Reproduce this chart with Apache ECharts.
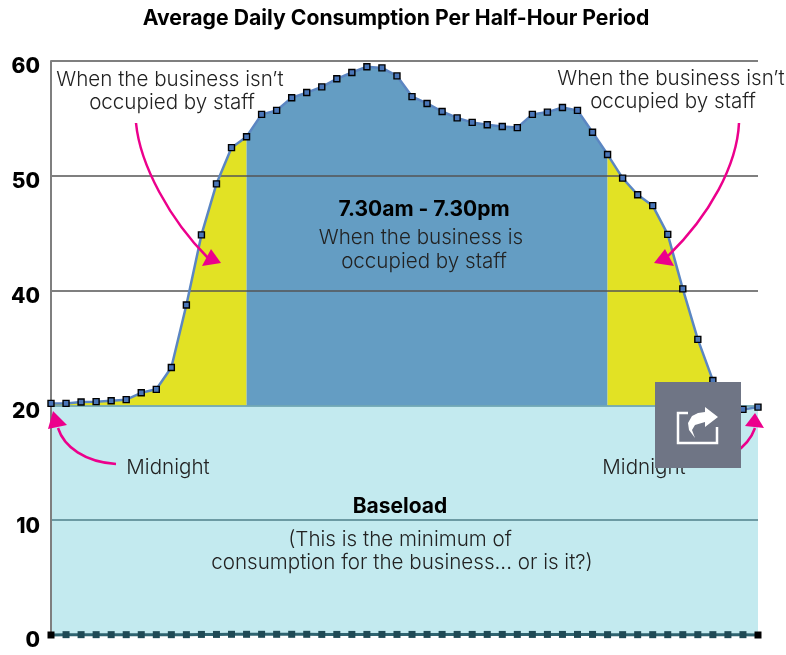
<!DOCTYPE html>
<html>
<head>
<meta charset="utf-8">
<style>
  html, body { margin: 0; padding: 0; background: #fff; }
  #chart { width: 786px; height: 655px; }
</style>
</head>
<body>
<div id="chart"></div>
<script src="https://cdn.jsdelivr.net/npm/echarts@6/dist/echarts.min.js"></script>
<script>
// half-hour slots, midnight to midnight
const slots = Array.from({ length: 48 }, (_, i) => i);

// printed tick labels, evenly spaced even though 30 is missing
const tickLabels = ["0", "10", "20", "40", "50", "60"];

// consumption as read on the printed scale
const dailyValues = [
  20.35, 20.35, 20.6, 20.65, 20.8, 21.0, 22.2, 22.8, 26.6, 37.5, 44.85, 49.3,
  52.45, 53.4, 55.35, 55.7, 56.8, 57.25, 57.75, 58.45, 59.0, 59.5, 59.4, 58.7,
  56.9, 56.3, 55.6, 55.05, 54.65, 54.45, 54.3, 54.2, 55.35, 55.55, 55.95, 55.7,
  53.8, 51.85, 49.8, 48.35, 47.4, 44.9, 40.15, 31.5, 24.35, 20.5, 19.65, 19.85,
];
// the second series sitting on the bottom of the chart
const floorValues = [
  0, 0.03, 0.03, 0.03, 0.03, 0.03, 0.03, 0.03, 0.03, 0.03, 0.05, 0.05,
  0.06, 0.06, 0.06, 0.06, 0.06, 0.06, 0.05, 0.05, 0.05, 0.05, 0.05, 0.05,
  0.05, 0.05, 0.05, 0.05, 0.05, 0.05, 0.05, 0.05, 0.05, 0.05, 0.05, 0.05,
  0.05, 0.03, 0.03, 0.03, 0.03, 0.03, 0.03, 0.03, 0.03, 0.03, 0.03, 0,
];
const baseload = 20;
const staffStart = 13;
const staffEnd = 37;
const lastYellow = 45;

// printed scale -> evenly spaced axis position (the 20..40 step is one tick wide)
function toAxis(v) {
  if (v <= 20) return v;
  if (v <= 40) return 20 + (v - 20) / 2;
  return v - 10;
}

const axisValues = dailyValues.map(toAxis);
const part = (from, to) =>
  axisValues.map((v, i) => (i >= from && i <= to ? v : null));

function areaSeries(name, data, color, origin) {
  return {
    name,
    type: "line",
    data,
    symbol: "none",
    silent: true,
    lineStyle: { width: 0 },
    areaStyle: { color, opacity: 1, origin },
    z: 1,
  };
}

const FONT = "Inter";
const PINK = "#ec008c";

function note(text, x, y, bold) {
  return {
    type: "text",
    x,
    y: y + 2,
    z: 10,
    style: {
      text,
      fill: bold ? "#000" : "#222",
      font: bold ? "bold 21px " + FONT : "300 20.6px " + FONT,
      textAlign: "center",
      textVerticalAlign: "middle",
    },
  };
}

function arrow(curve, head) {
  return [
    {
      type: "bezierCurve",
      z: 11,
      shape: {
        x1: curve[0], y1: curve[1],
        cpx1: curve[2], cpy1: curve[3],
        cpx2: curve[4], cpy2: curve[5],
        x2: curve[6], y2: curve[7],
      },
      style: { fill: null, stroke: PINK, lineWidth: 2.5 },
    },
    {
      type: "polygon",
      z: 11,
      shape: { points: head },
      style: { fill: PINK },
    },
  ];
}

const chart = echarts.init(document.getElementById("chart"));
chart.setOption({
  animation: false,
  backgroundColor: "#fff",
  title: {
    text: "Average Daily Consumption Per Half-Hour Period",
    left: 396,
    top: 8,
    padding: 0,
    textAlign: "center",
    textStyle: { color: "#000", fontFamily: FONT, fontWeight: "bold", fontSize: 21.2 },
  },
  grid: { left: 51, right: 28, top: 61, bottom: 20 },
  xAxis: {
    type: "category",
    data: slots,
    boundaryGap: false,
    axisLine: { show: false },
    axisTick: { show: false },
    axisLabel: { show: false },
    splitLine: { show: false },
  },
  yAxis: {
    type: "value",
    min: 0,
    max: 50,
    interval: 10,
    z: 3,
    axisLine: { show: true, lineStyle: { color: "#7f7f7f", width: 2 } },
    axisTick: { show: false },
    splitLine: {
      show: true,
      lineStyle: {
        color: ["rgba(0,0,0,0)", "#4f7f8a", "#5f9aa8", "#555", "#555", "#555"],
        width: 1.5,
      },
    },
    axisLabel: {
      color: "#000",
      fontFamily: FONT,
      fontWeight: 800,
      fontSize: 21,
      margin: 11,
      verticalAlign: "top",
      lineHeight: 12,
      formatter: (v) => tickLabels[v / 10],
    },
  },
  series: [
    areaSeries("Baseload", slots.map(() => baseload), "#c3eaef", "start"),
    areaSeries("Before staff", part(0, staffStart), "#e2e224", toAxis(baseload)),
    areaSeries("Staff hours", part(staffStart, staffEnd), "#649dc3", toAxis(baseload)),
    areaSeries("After staff", part(staffEnd, lastYellow), "#e2e224", toAxis(baseload)),
    {
      name: "Average",
      type: "line",
      data: axisValues,
      symbol: "rect",
      symbolSize: 6,
      clip: false,
      z: 5,
      lineStyle: { color: "#5b86c2", width: 2.5 },
      itemStyle: { color: "#4a76b8", borderColor: "#000", borderWidth: 1.4 },
    },
    {
      name: "Floor",
      type: "line",
      data: floorValues.map((value, i) => ({
        value,
        itemStyle: i === 0 || i === slots.length - 1 ? { color: "#000", borderColor: "#000" } : undefined,
      })),
      symbol: "rect",
      symbolSize: 7,
      clip: false,
      z: 5,
      lineStyle: { color: "#2f6470", width: 3 },
      itemStyle: { color: "#1f4a55", borderColor: "#1f4a55", borderWidth: 0 },
    },
  ],
  graphic: [
    note("When the business isn\u2019t", 170, 78),
    note("occupied by staff", 172, 101),
    note("When the business isn\u2019t", 671, 77),
    note("occupied by staff", 673, 100),
    note("7.30am - 7.30pm", 424, 208, true),
    note("When the business is", 421, 236),
    note("occupied by staff", 424, 260),
    note("Baseload", 400, 505, true),
    note("(This is the minimum of", 400, 538),
    note("consumption for the business... or is it?)", 402, 561),
    note("Midnight", 168, 466),
    note("Midnight", 644, 466),
    ...arrow([136, 123, 140, 165, 170, 220, 208, 258], [[211, 249], [221, 263], [202, 266]]),
    ...arrow([739, 123, 737, 165, 710, 215, 668, 256], [[665, 249], [654, 263], [674, 266]]),
    ...arrow([116, 464, 85, 462, 64, 447, 58, 428], [[53, 411], [48, 429], [67, 425]]),
    ...arrow([700, 464, 725, 463, 748, 448, 755, 428], [[755, 413], [745, 426], [764, 428]]),
    // share button sitting over the picture
    {
      type: "rect",
      z: 20,
      shape: { x: 655, y: 382, width: 86, height: 86 },
      style: { fill: "#6f7585" },
    },
    {
      type: "polyline",
      z: 21,
      shape: { points: [[688, 413], [678, 413], [678, 443], [717, 443], [717, 427]] },
      style: { fill: null, stroke: "#fff", lineWidth: 2.5 },
    },
    {
      type: "polygon",
      z: 21,
      shape: {
        points: [
          [718, 417], [705, 407], [705, 412], [698, 413], [692, 416], [688, 423],
          [689, 430], [695, 438], [692, 430], [695, 425], [705, 422], [705, 427],
        ],
      },
      style: { fill: "#fff" },
    },
  ],
});
</script>
</body>
</html>
